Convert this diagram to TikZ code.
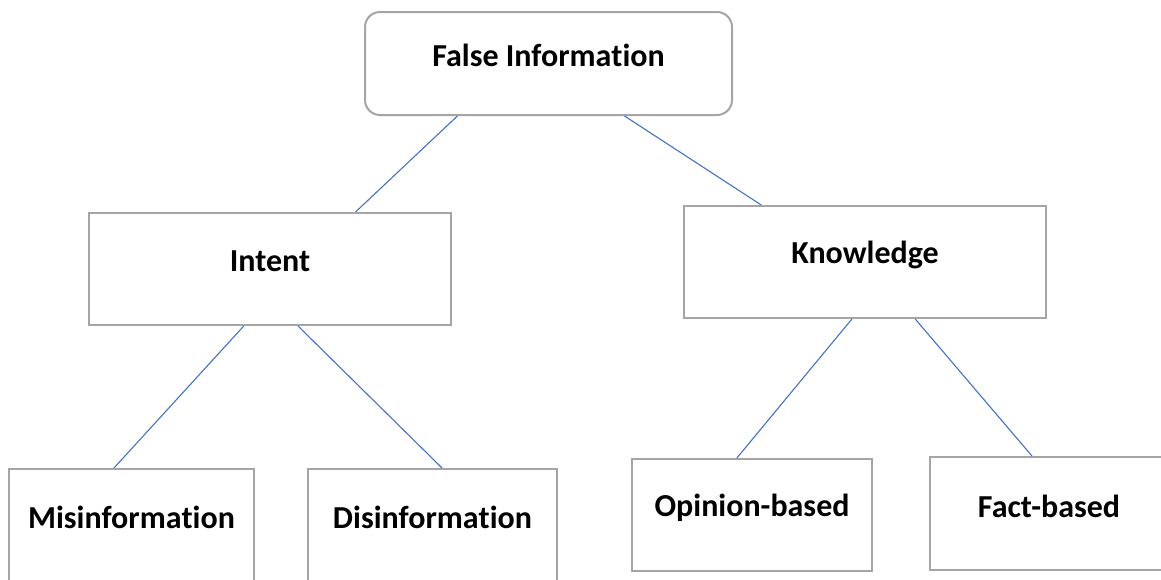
\documentclass[tikz,border=0pt]{standalone}
\usepackage{fontspec}
\setmainfont{Carlito}[RawFeature={-liga;-clig;-calt;-dlig}]
\usetikzlibrary{calc}
\definecolor{boxgray}{RGB}{165,165,165}
\definecolor{linkblue}{RGB}{68,114,196}
\tikzset{
  box/.style={draw=boxgray, line width=2pt, fill=white, inner sep=0pt},
  roundbox/.style={box, rounded corners=15pt},
  txt/.style={font=\fontsize{32}{38}\selectfont\bfseries, text=black, inner sep=0pt},
  link/.style={draw=linkblue, line width=1.1pt}
}
\begin{document}
\begin{tikzpicture}[x=1pt,y=-1pt]
\useasboundingbox (0,0) rectangle (1161,579);
\fill[white] (0,0) rectangle (1161,579);

% boxes (centre, width, height in pixels); \kern0pt keeps "t" and "i" as separate glyphs
\node[roundbox, minimum width=367pt, minimum height=103pt,
      label={[txt,yshift=8.5pt]center:False Informa\kern0pt tion}] (root) at (548.5,63.5) {};
\node[box, minimum width=362pt, minimum height=112pt,
      label={[txt,yshift=8pt]center:Intent}] (intent) at (270,269) {};
\node[box, minimum width=362pt, minimum height=112pt,
      label={[txt,yshift=7pt]center:Knowledge}] (know) at (865,262) {};
\node[box, minimum width=245pt, minimum height=112pt,
      label={[txt,yshift=8pt]center:Misinforma\kern0pt tion}] (mis) at (131.5,525) {};
\node[box, minimum width=249pt, minimum height=112pt,
      label={[txt,yshift=8pt]center:Disinforma\kern0pt tion}] (dis) at (432.5,525) {};
\node[box, minimum width=240pt, minimum height=112pt,
      label={[txt,yshift=7pt]center:Opinion-based}] (opin) at (752,515) {};
\node[box, minimum width=238pt, minimum height=113pt,
      label={[txt,yshift=7.5pt]center:Fact-based}] (fact) at (1049,513.5) {};

% connectors
\draw[link] ($(root.south west)!0.253!(root.south east)$) -- ($(intent.north west)!0.735!(intent.north east)$);
\draw[link] ($(root.south west)!0.706!(root.south east)$) -- ($(know.north west)!0.215!(know.north east)$);
\draw[link] ($(intent.south west)!0.428!(intent.south east)$) -- ($(mis.north west)!0.429!(mis.north east)$);
\draw[link] ($(intent.south west)!0.577!(intent.south east)$) -- ($(dis.north west)!0.538!(dis.north east)$);
\draw[link] ($(know.south west)!0.464!(know.south east)$) -- ($(opin.north west)!0.4375!(opin.north east)$);
\draw[link] ($(know.south west)!0.638!(know.south east)$) -- ($(fact.north west)!0.429!(fact.north east)$);
\end{tikzpicture}
\end{document}
